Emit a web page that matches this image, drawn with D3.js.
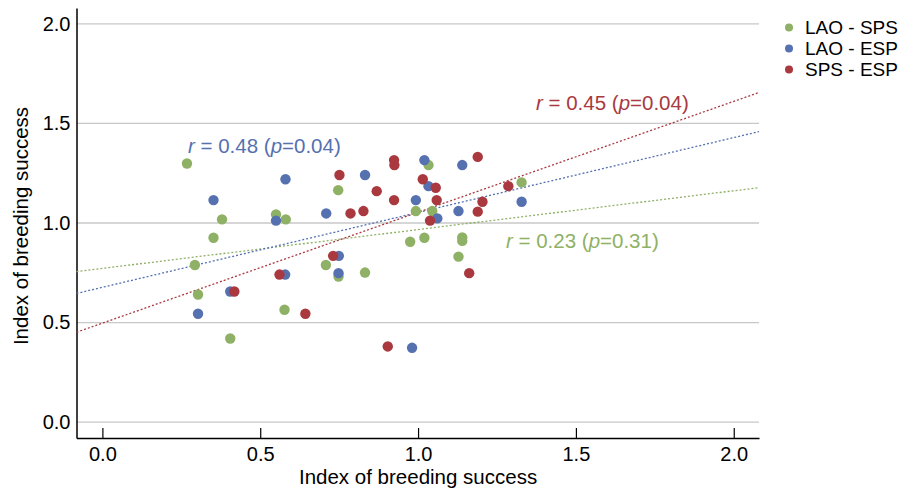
<!DOCTYPE html>
<html>
<head>
<meta charset="utf-8">
<script src="https://cdn.jsdelivr.net/npm/d3@7"></script>
<style>
  body { margin: 0; background: #fff; }
  text { font-family: "Liberation Sans", Arial, sans-serif; }
</style>
</head>
<body>
<script>
// Datos
const seriesNames = ["LAO - SPS", "LAO - ESP", "SPS - ESP"];
const seriesColors = ["#8fb165", "#5571b0", "#a9393f"];

const laoSpsX = [0.268, 0.747, 0.379, 0.550, 0.581, 0.352, 0.975, 0.293, 0.708, 0.748, 0.832, 0.303, 0.577, 0.405, 1.033, 0.993, 1.045, 1.328, 1.020, 1.140, 1.140, 1.128];
const laoSpsY = [1.299, 1.165, 1.018, 1.043, 1.018, 0.926, 0.906, 0.789, 0.789, 0.731, 0.751, 0.641, 0.564, 0.420, 1.291, 1.060, 1.060, 1.204, 0.926, 0.928, 0.910, 0.831];

const laoEspX = [0.352, 0.580, 0.550, 0.709, 0.832, 0.749, 0.748, 0.579, 0.405, 0.303, 0.981, 1.020, 1.140, 1.033, 0.993, 1.061, 1.128, 1.328];
const laoEspY = [1.115, 1.220, 1.012, 1.048, 1.241, 0.835, 0.748, 0.741, 0.656, 0.544, 0.373, 1.316, 1.291, 1.185, 1.115, 1.023, 1.060, 1.107];

const spsEspX = [0.751, 0.924, 0.925, 0.869, 0.924, 0.786, 0.827, 0.731, 0.561, 0.418, 0.643, 0.904, 1.189, 1.015, 1.056, 1.059, 1.038, 1.189, 1.204, 1.286, 1.162];
const spsEspY = [1.241, 1.316, 1.291, 1.160, 1.115, 1.048, 1.060, 0.835, 0.741, 0.656, 0.544, 0.380, 1.332, 1.220, 1.177, 1.115, 1.012, 1.057, 1.107, 1.185, 0.748];

// Rectas de regresión (intercepto y pendiente)
const fitIntercepts = [0.772, 0.677, 0.497];
const fitSlopes = [0.195, 0.376, 0.557];
const fitLabels = [
    { r: "0.23", p: "0.31" },
    { r: "0.48", p: "0.04" },
    { r: "0.45", p: "0.04" }
];

const ticks = [0, 0.5, 1, 1.5, 2];

const width = 907;
const height = 491;
const margin = { left: 76.5, right: 148, top: 8, bottom: 53 };

const svg = d3.select("body").append("svg")
    .attr("width", width)
    .attr("height", height);

const x = d3.scaleLinear().domain([-0.082, 2.08]).range([margin.left, width - margin.right]);
const y = d3.scaleLinear().domain([-0.08, 2.08]).range([height - margin.bottom, margin.top]);

// Líneas de rejilla horizontales
svg.append("g")
    .selectAll("line")
    .data(ticks)
    .join("line")
    .attr("x1", x.range()[0])
    .attr("x2", x.range()[1])
    .attr("y1", d => y(d))
    .attr("y2", d => y(d))
    .attr("stroke", "#c8c8c8")
    .attr("stroke-width", 1.3);

// Eje Y
const yAxis = svg.append("g")
    .attr("transform", `translate(${margin.left},0)`)
    .call(d3.axisLeft(y).tickValues(ticks).tickFormat(d3.format(".1f")).tickSize(0).tickPadding(6));
yAxis.select(".domain").attr("stroke", "#000").attr("stroke-width", 1.5);
yAxis.selectAll("text").attr("font-size", 20).attr("fill", "#000");

// Eje X (ticks hacia dentro)
const xAxis = svg.append("g")
    .attr("transform", `translate(0,${height - margin.bottom})`)
    .call(d3.axisBottom(x).tickValues(ticks).tickFormat(d3.format(".1f")).tickSize(-10).tickSizeOuter(0).tickPadding(7));
xAxis.select(".domain").attr("stroke", "#000").attr("stroke-width", 1.5);
xAxis.selectAll(".tick line").attr("stroke", "#000").attr("stroke-width", 1.2);
xAxis.selectAll("text").attr("font-size", 20).attr("fill", "#000").attr("dy", "0.8em");

// Títulos de los ejes
svg.append("text")
    .attr("x", x(1))
    .attr("y", 484)
    .attr("text-anchor", "middle")
    .attr("font-size", 20.5)
    .text("Index of breeding success");

svg.append("text")
    .attr("transform", `translate(28,${y(1) + 3}) rotate(-90)`)
    .attr("text-anchor", "middle")
    .attr("font-size", 20.5)
    .text("Index of breeding success");

// Rectas de regresión punteadas
const xd = x.domain();
svg.append("g")
    .selectAll("line")
    .data(fitIntercepts)
    .join("line")
    .attr("x1", x(xd[0]))
    .attr("x2", x(xd[1]))
    .attr("y1", (d, i) => y(d + fitSlopes[i] * xd[0]))
    .attr("y2", (d, i) => y(d + fitSlopes[i] * xd[1]))
    .attr("stroke", (d, i) => seriesColors[i])
    .attr("stroke-width", 1.3)
    .attr("stroke-dasharray", "2,2");

// Puntos
const series = [
    laoSpsX.map((v, i) => [v, laoSpsY[i]]),
    laoEspX.map((v, i) => [v, laoEspY[i]]),
    spsEspX.map((v, i) => [v, spsEspY[i]])
];
series.forEach((pts, i) => {
    svg.append("g")
        .selectAll("circle")
        .data(pts)
        .join("circle")
        .attr("cx", d => x(d[0]))
        .attr("cy", d => y(d[1]))
        .attr("r", 5.2)
        .attr("fill", seriesColors[i]);
});

// Etiquetas de correlación
const labelPos = [[506, 248], [188, 153], [536, 110]];
fitLabels.forEach((l, i) => {
    const t = svg.append("text")
        .attr("x", labelPos[i][0])
        .attr("y", labelPos[i][1])
        .attr("font-size", 20.5)
        .attr("fill", seriesColors[i]);
    t.append("tspan").attr("font-style", "italic").text("r");
    t.append("tspan").text(` = ${l.r} (`);
    t.append("tspan").attr("font-style", "italic").text("p");
    t.append("tspan").text(`=${l.p})`);
});

// Leyenda
const legend = svg.append("g")
    .selectAll("g")
    .data(seriesNames)
    .join("g")
    .attr("transform", (d, i) => `translate(789,${27.5 + i * 21})`);
legend.append("circle")
    .attr("r", 4)
    .attr("fill", (d, i) => seriesColors[i]);
legend.append("text")
    .attr("x", 16)
    .attr("dy", "0.35em")
    .attr("font-size", 19)
    .text(d => d);
</script>
</body>
</html>
